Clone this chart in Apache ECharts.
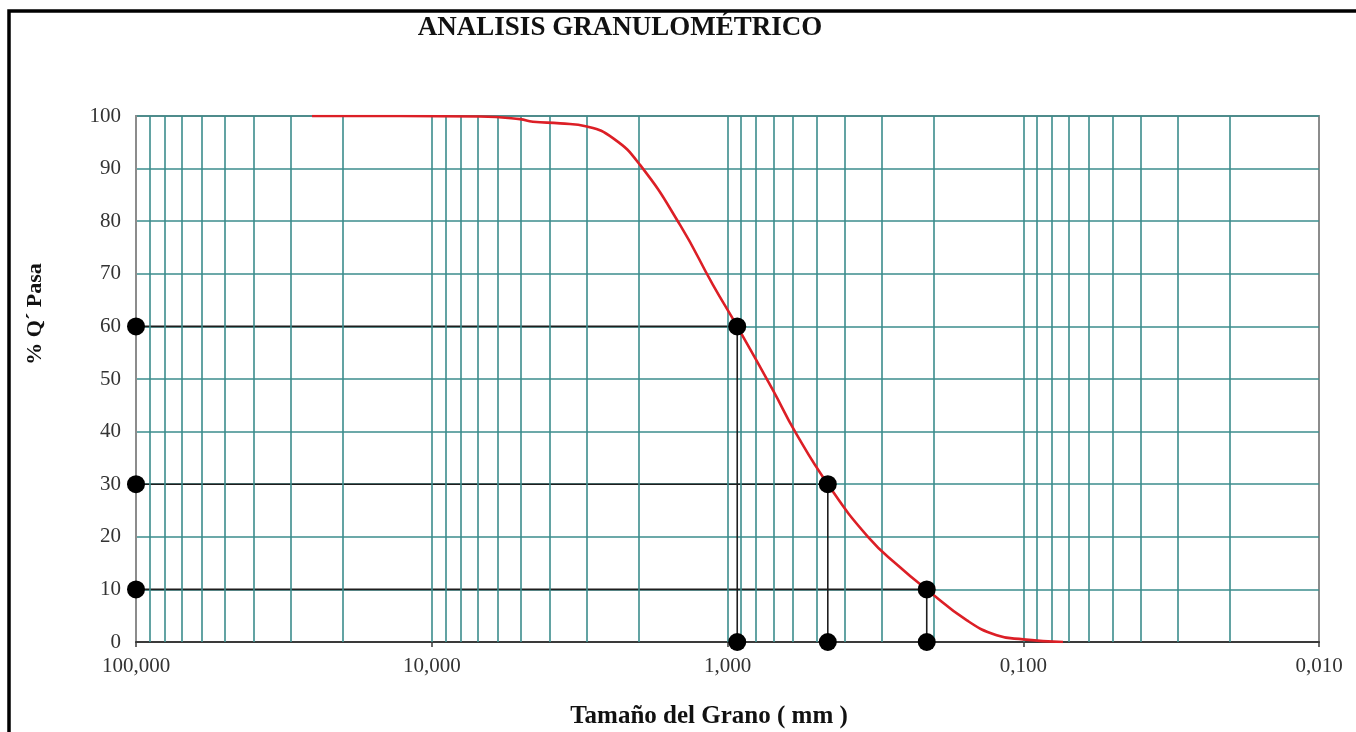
<!DOCTYPE html>
<html>
<head>
<meta charset="utf-8">
<script src="https://cdn.jsdelivr.net/npm/echarts@6/dist/echarts.min.js"></script>
<style>html,body{margin:0;padding:0;background:#fff;}#c{width:1356px;height:732px;}</style>
</head>
<body>
<div id="c"></div>
<script>
// Grain size curve (mm, % passing)
const sizes   = [25.4, 12.8, 6.87, 5.03, 4.55, 3.68, 2.99, 2.44, 1.976, 1.447, 1.12, 0.927, 0.702, 0.591, 0.458, 0.335, 0.261, 0.212, 0.155, 0.123, 0.1, 0.0734];
const passing = [100, 100, 99.9, 99.4, 98.9, 98.6, 98.0, 95.8, 90.7, 79.3, 67.9, 60, 47.9, 40, 30, 20, 14.2, 10, 4.1, 1.3, 0.5, 0];
// Characteristic diameters
const dLevels = [60, 30, 10];
const dSizes  = [0.927, 0.458, 0.212];
// Axis ranges / gridlines
const xMin = 0.01, xMax = 100;
const decades = [0.01, 0.1, 1, 10];
const minorSteps = [1, 2, 3, 4, 5, 6, 7, 8, 9];
const yTicks = [0, 10, 20, 30, 40, 50, 60, 70, 80, 90, 100];

const teal = '#3b8c8c';
const serif = '"Liberation Serif", "DejaVu Serif", serif';

const vLines = [];
decades.forEach(d => minorSteps.forEach(k => {
  const v = +(d * k).toPrecision(6);
  if (v > xMin) vLines.push({ xAxis: v });
}));

const curve = sizes.map((s, i) => [s, passing[i]]);

const refSeries = [];
const dotData = [];
dLevels.forEach((p, i) => {
  const d = dSizes[i];
  refSeries.push({
    type: 'line', z: 4, silent: true, symbol: 'none',
    lineStyle: { color: '#1e1e1e', width: 1.6 },
    data: [[xMax, p], [d, p], [d, 0]]
  });
  dotData.push([xMax, p], [d, p], [d, 0]);
});

const chart = echarts.init(document.getElementById('c'), null, { renderer: 'canvas' });
chart.setOption({
  animation: false,
  backgroundColor: '#fff',
  grid: { left: 136, right: 37, top: 116, bottom: 90, show: true, borderColor: '#8c8c8c', borderWidth: 2, backgroundColor: 'transparent' },
  xAxis: {
    type: 'log', logBase: 10, min: xMin, max: xMax, inverse: true,
    axisLine: { show: true, onZero: false, lineStyle: { color: '#3a3a3a', width: 2 } },
    axisTick: { show: true, inside: false, length: 5, lineStyle: { color: '#3a3a3a', width: 1.5 } },
    splitLine: { show: false },
    axisLabel: {
      margin: 14, fontFamily: serif, fontSize: 21, color: '#333',
      formatter: v => Number(v).toFixed(3).replace('.', ',')
    }
  },
  yAxis: {
    type: 'value', min: 0, max: 100, interval: 10,
    axisLine: { show: true, lineStyle: { color: '#8c8c8c', width: 2 } },
    axisTick: { show: false },
    splitLine: { show: true, lineStyle: { color: teal, width: 1.6 } },
    axisLabel: { margin: 15, fontFamily: serif, fontSize: 21, color: '#333' }
  },
  series: [
    {
      type: 'line', z: 1, silent: true, data: [],
      markLine: {
        silent: true, symbol: ['none', 'none'], animation: false,
        label: { show: false },
        lineStyle: { color: teal, width: 1.6, type: 'solid' },
        data: vLines
      }
    },
    {
      type: 'line', z: 5, silent: true, data: curve, smooth: 0.5,
      symbol: 'none', lineStyle: { color: '#dc1f26', width: 2.6 }
    },
    ...refSeries,
    {
      type: 'scatter', z: 6, silent: true, data: dotData, symbolSize: 18,
      itemStyle: { color: '#000', opacity: 1 }
    }
  ],
  graphic: [
    { type: 'rect', silent: true, shape: { x: 9, y: 11, width: 1400, height: 800 }, style: { fill: 'none', stroke: '#000', lineWidth: 3.5 } },
    { type: 'text', silent: true, x: 620, y: 28, style: { text: 'ANALISIS GRANULOMÉTRICO', font: 'bold 27px ' + serif, fill: '#111', align: 'center', verticalAlign: 'middle' } },
    { type: 'text', silent: true, x: 709, y: 717, style: { text: 'Tamaño del Grano ( mm )', font: 'bold 25px ' + serif, fill: '#111', align: 'center', verticalAlign: 'middle' } },
    { type: 'text', silent: true, x: 35, y: 314, rotation: Math.PI / 2, style: { text: '% Q´ Pasa', font: 'bold 22px ' + serif, fill: '#111', align: 'center', verticalAlign: 'middle' } }
  ]
});
</script>
</body>
</html>
